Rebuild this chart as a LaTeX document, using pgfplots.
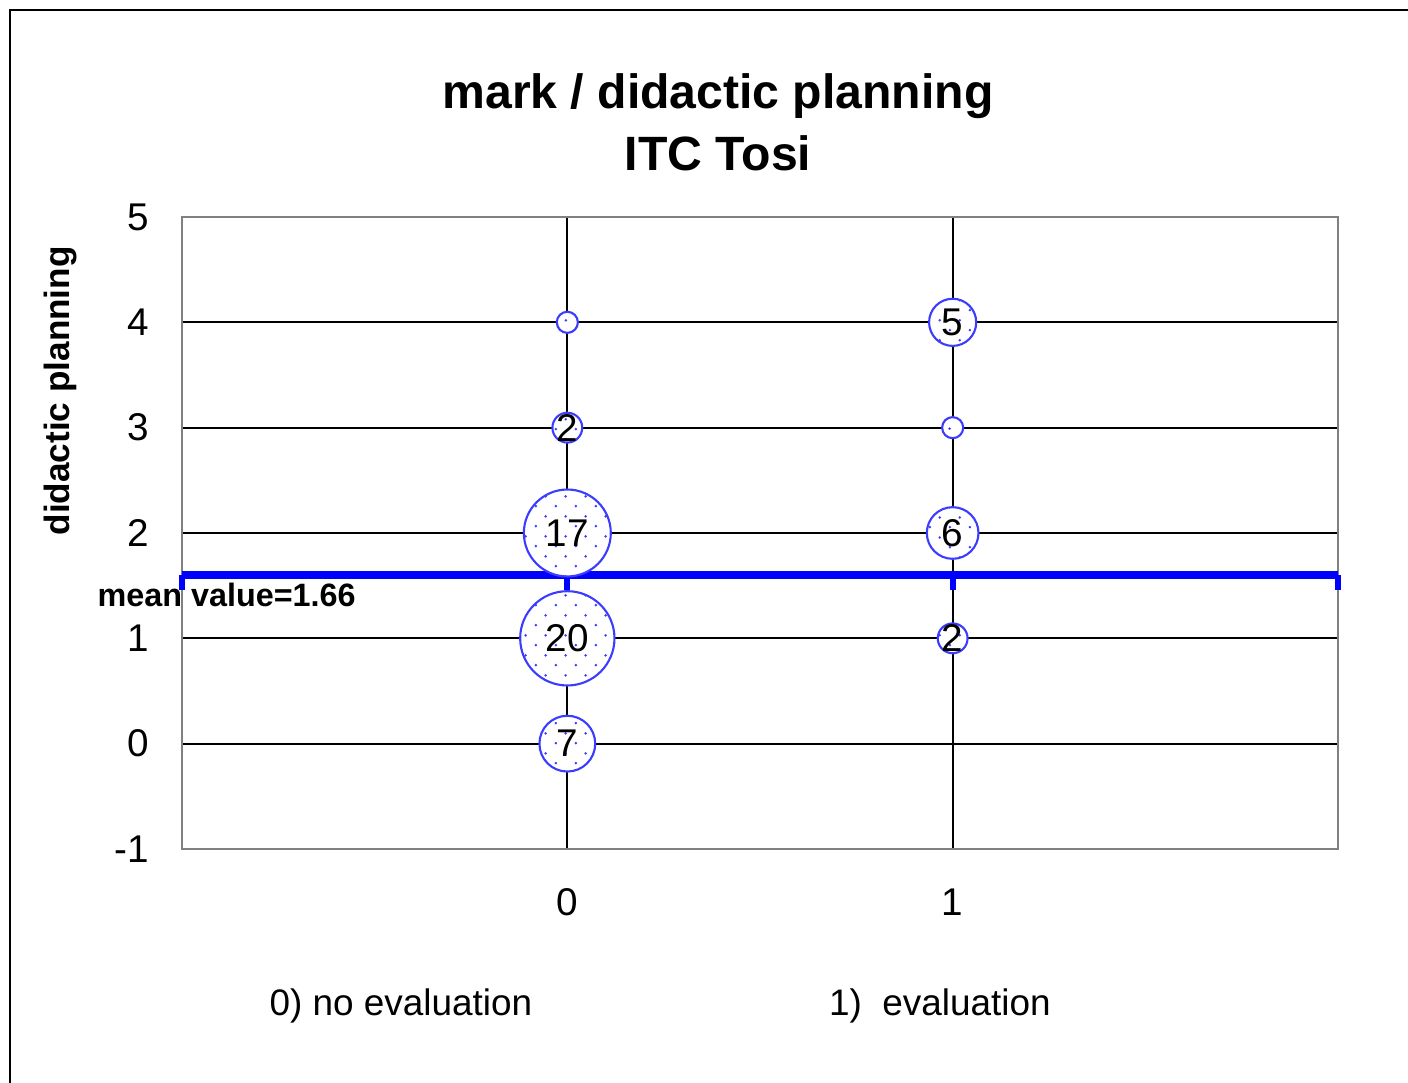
\documentclass[border=0pt]{standalone}
\usepackage{fontspec}
\setmainfont{Liberation Sans}
\usepackage{pgfplots}
\usepackage{pgfplotstable}
\pgfplotsset{compat=1.18}
\usetikzlibrary{calc,patterns}

\definecolor{bubbleblue}{RGB}{60,60,255}

% sparse staggered dots, as in the spreadsheet fill
\pgfdeclarepatternformonly{sparsedots}{\pgfpointorigin}{\pgfqpoint{5.6pt}{5.6pt}}{\pgfqpoint{5.6pt}{5.6pt}}{%
  \pgfpathcircle{\pgfqpoint{1.4pt}{1.4pt}}{0.4pt}%
  \pgfpathcircle{\pgfqpoint{4.2pt}{4.2pt}}{0.4pt}%
  \pgfusepath{fill}}

% white disc, blue outline, dotted fill
\pgfdeclareplotmark{bubble}{%
  \pgfpathcircle{\pgfpointorigin}{\pgfplotmarksize}%
  \pgfsetfillcolor{white}\pgfsetstrokecolor{bubbleblue}\pgfsetlinewidth{0.6pt}%
  \pgfusepathqfillstroke
  \pgfpathcircle{\pgfpointorigin}{\pgfplotmarksize}%
  \pgfsetfillpattern{sparsedots}{bubbleblue}%
  \pgfusepathqfill}

% x: 0 = no evaluation, 1 = evaluation; y: didactic planning; n: count
\pgfplotstableread{
x y n lab
0 4 1 {}
0 3 2 2
0 2 17 17
0 1 20 20
0 0 7 7
1 4 5 5
1 3 1 {}
1 2 6 6
1 1 2 2
}\bubbles

\begin{document}
\begin{tikzpicture}
\begin{axis}[
    scale only axis,
    width=11.56cm, height=6.32cm,
    xmin=-1, xmax=2, ymin=-1, ymax=5,
    xtick={0,1}, ytick={-1,0,...,5},
    major tick length=0pt,
    xmajorgrids, ymajorgrids,
    grid style={black, line width=0.6pt},
    axis line style={black!50, line width=0.6pt},
    clip=false,
    tick label style={font=\fontsize{11}{13}\selectfont},
    /pgf/number format/assume math mode=true,
    xticklabel style={anchor=center, yshift=-0.53cm},
    yticklabel style={anchor=east, inner sep=0pt, xshift=-0.32cm},
    every axis title/.style={at={(axis description cs:0.4637,1)}, anchor=south,
        yshift=0.45cm, inner sep=0pt, align=center,
        font=\bfseries\fontsize{13.7}{17.6}\selectfont},
    title={mark / didactic planning\\ITC Tosi},
    ylabel={didactic planning},
    ylabel style={at={(axis description cs:-0.1055,0.725)}, anchor=center,
        font=\bfseries\fontsize{10}{12}\selectfont},
]
% bubbles: area proportional to the count
\addplot[scatter, only marks, mark=bubble,
    point meta=\thisrow{n}, point meta min=0, point meta max=1000,
    scatter/@pre marker code/.code={%
        \pgfmathsetmacro\msize{3.0*sqrt(\pgfplotspointmetatransformed)}%
        \pgfsetplotmarksize{\msize pt}},
    scatter/@post marker code/.code={},
] table[x=x, y=y] {\bubbles};
% counts written in the bubbles
\addplot[only marks, mark=none,
    point meta=explicit symbolic,
    nodes near coords,
    nodes near coords style={anchor=center, text=black, font=\fontsize{11}{13}\selectfont},
] table[x=x, y=y, meta=lab] {\bubbles};
% mean value line
\addplot[blue, line width=2.3pt, mark=none,
    error bars/.cd, y dir=minus, y explicit, error mark=none,
    error bar style={line width=1.7pt}]
    coordinates {(-1,1.6) -= (0,0.14) (0,1.6) -= (0,0.14) (1,1.6) -= (0,0.14) (2,1.6) -= (0,0.14)};
\node[anchor=west, inner sep=0pt, xshift=-0.85cm, font=\bfseries\fontsize{9.2}{11}\selectfont]
    at (axis cs:-1,1.41) {mean value=1.66};
\node[font=\fontsize{10.5}{13}\selectfont] at (axis cs:-0.432,-2.49) {0) no evaluation};
\node[font=\fontsize{10.5}{13}\selectfont] at (axis cs:0.967,-2.49) {1)~~evaluation};
\coordinate (sw) at (rel axis cs:0,0);
\end{axis}
\draw[line width=0.7pt] ($(sw)+(-1.72,-2.40)$) -- ($(sw)+(-1.72,8.39)$) -- ($(sw)+(12.30,8.39)$);
\pgfresetboundingbox
\path ($(sw)+(-1.82,-2.34)$) rectangle ($(sw)+(12.26,8.49)$);
\end{tikzpicture}
\end{document}
